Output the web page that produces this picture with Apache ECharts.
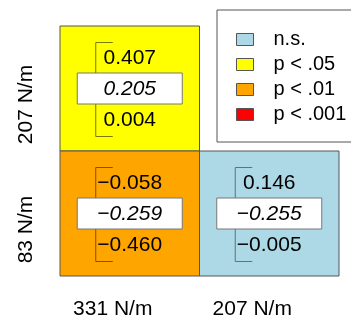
<!DOCTYPE html>
<html>
<head>
<meta charset="utf-8">
<script src="https://cdn.jsdelivr.net/npm/echarts@6/dist/echarts.min.js"></script>
<style>
  html, body { margin: 0; padding: 0; background: #fff; }
  #chart { width: 351px; height: 322px; }
</style>
</head>
<body>
<div id="chart"></div>
<script>
// Stiffness pairs: columns and rows of the lower-triangular matrix
const xLabels = ['331 N/m', '207 N/m'];
const yLabels = ['83 N/m', '207 N/m'];

// One entry per filled cell
const cellCol = [0, 0, 1];
const cellRow = [1, 0, 0];
const estimate = [0.205, -0.259, -0.255];
const upperCI = [0.407, -0.058, 0.146];
const lowerCI = [0.004, -0.460, -0.005];
const cellClass = ['p < .05', 'p < .01', 'n.s.'];

// Significance classes, fills and darker bracket tones
const classNames = ['n.s.', 'p < .05', 'p < .01', 'p < .001'];
const classFill = ['#ADD8E6', '#FFFF00', '#FFA500', '#FF0000'];
const classLine = ['#5f7378', '#7a7a00', '#7f5200', '#800000'];

const FONT = '"Liberation Sans", Arial, Helvetica, sans-serif';

function fmt(v) {
  const s = Math.abs(v).toFixed(3);
  return v < 0 ? '\u2212' + s : s;
}

function renderCell(params, api) {
  const i = api.value(2);
  const k = classNames.indexOf(cellClass[i]);
  const c = api.coord([api.value(0), api.value(1)]);
  const s = api.size([1, 1]);
  const cx = c[0], cy = c[1];
  const bx = cx - 34;
  const txt = (y, str, italic) => ({
    type: 'text',
    style: {
      x: cx, y: y, text: str, fill: '#000',
      font: (italic ? 'italic ' : '') + '21px ' + FONT,
      align: 'center', verticalAlign: 'middle'
    }
  });
  return {
    type: 'group',
    children: [
      {
        type: 'rect',
        shape: { x: cx - s[0] / 2, y: cy - s[1] / 2, width: s[0], height: s[1] },
        style: { fill: classFill[k], stroke: '#555', lineWidth: 1 }
      },
      {
        type: 'polyline',
        shape: { points: [[bx + 17, cy - 46], [bx, cy - 46], [bx, cy + 48], [bx + 17, cy + 48]] },
        style: { fill: null, stroke: classLine[k], lineWidth: 1 }
      },
      {
        type: 'rect',
        shape: { x: cx - 52.5, y: cy - 15.5, width: 105, height: 31 },
        style: { fill: '#fff', stroke: '#777', lineWidth: 1 }
      },
      txt(cy - 30, fmt(upperCI[i]), false),
      txt(cy + 1, fmt(estimate[i]), true),
      txt(cy + 32, fmt(lowerCI[i]), false)
    ]
  };
}

const series = classNames.map((name, k) => ({
  type: 'custom',
  name: name,
  color: classFill[k],
  itemStyle: { color: classFill[k], borderColor: '#555', borderWidth: 1 },
  renderItem: renderCell,
  data: cellCol.map((x, i) => [x, cellRow[i], i]).filter(d => cellClass[d[2]] === name),
  silent: true
}));

const chart = echarts.init(document.getElementById('chart'), null, { renderer: 'canvas' });
chart.setOption({
  animation: false,
  grid: { left: 60, right: 12, top: 26, bottom: 46 },
  xAxis: {
    type: 'category',
    data: xLabels,
    axisLine: { show: false },
    axisTick: { show: false },
    splitLine: { show: false },
    axisLabel: {
      margin: 23,
      padding: [0, 34, 0, 0],
      color: '#000',
      fontSize: 21,
      fontFamily: FONT
    }
  },
  yAxis: {
    type: 'category',
    data: yLabels,
    axisLine: { show: false },
    axisTick: { show: false },
    splitLine: { show: false },
    axisLabel: {
      rotate: 90,
      margin: 23,
      padding: [0, 32, 0, 0],
      color: '#000',
      fontSize: 21,
      fontFamily: FONT
    }
  },
  legend: {
    left: 217,
    top: 10,
    orient: 'vertical',
    selectedMode: false,
    backgroundColor: '#fff',
    borderColor: '#555',
    borderWidth: 1,
    padding: [17, 30, 15, 19],
    itemWidth: 17,
    itemHeight: 12,
    itemGap: 0,
    icon: 'rect',
    data: classNames.map((n, k) => ({
      name: n,
      itemStyle: { color: classFill[k], borderColor: '#555', borderWidth: 1 }
    })),
    textStyle: {
      color: '#000',
      fontSize: 20,
      lineHeight: 23,
      fontFamily: FONT,
      padding: [2, 0, 0, 15]
    }
  },
  series: series
});
</script>
</body>
</html>
